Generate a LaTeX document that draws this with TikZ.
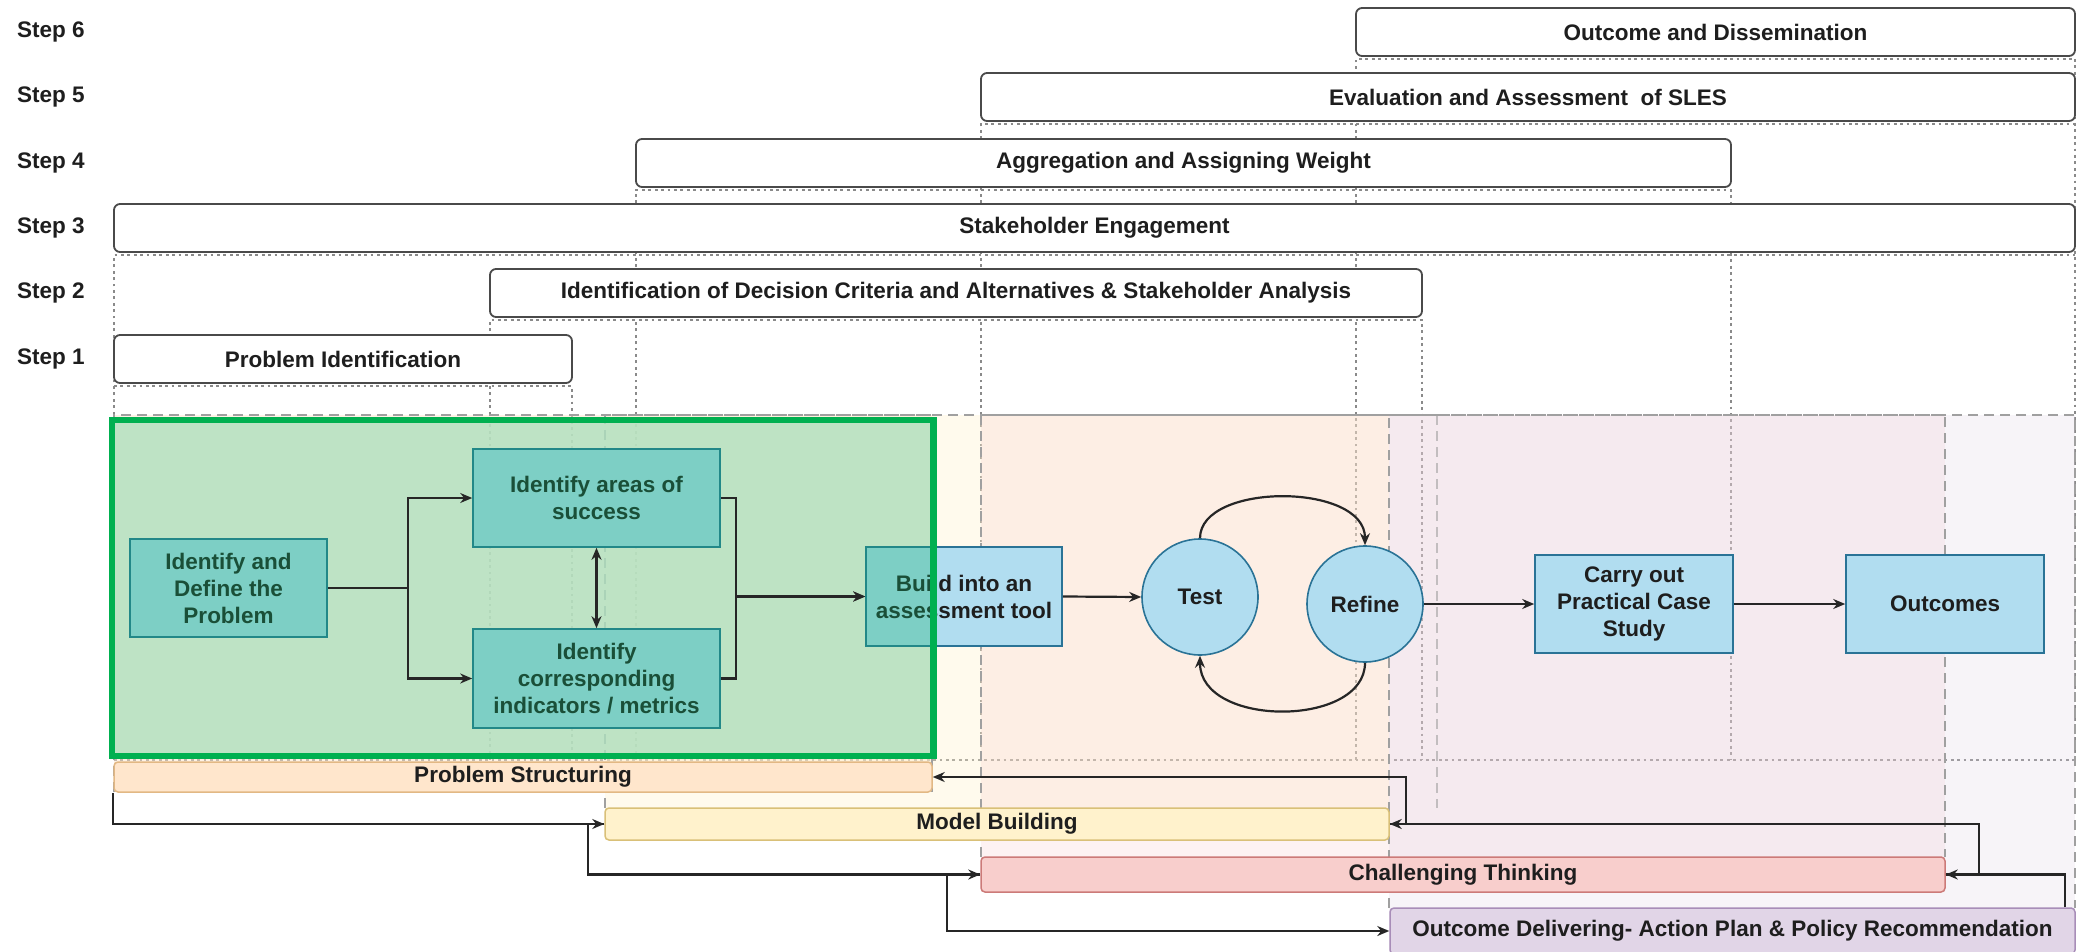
\documentclass[tikz,border=0pt]{standalone}
\usepackage{fontspec}
\setmainfont{Liberation Sans}
\usetikzlibrary{arrows.meta}
\definecolor{txtc}{HTML}{1E1E1E}
\definecolor{barb}{HTML}{4A4A4A}
\definecolor{dotg}{HTML}{8A8A8A}
\definecolor{dshg}{HTML}{A0A0A0}
\definecolor{psf}{HTML}{FFE6CC}
\definecolor{mbf}{HTML}{FFF2CC}
\definecolor{ctf}{HTML}{F8CECC}
\definecolor{odf}{HTML}{E1D5E7}
\definecolor{psb}{HTML}{E2B884}
\definecolor{mbb}{HTML}{D9C078}
\definecolor{ctb}{HTML}{CC7A78}
\definecolor{odb}{HTML}{A88DB8}
\definecolor{bluef}{HTML}{B1DDF0}
\definecolor{blueb}{HTML}{2A7396}
\definecolor{greenbg}{HTML}{AEE0BE}
\definecolor{greenc}{HTML}{00B050}
\definecolor{tintc}{RGB}{20,180,110}
\definecolor{linec}{HTML}{262626}
\newcommand{\fsz}{\fontsize{22.5}{27}\selectfont\bfseries}
\begin{document}
\begin{tikzpicture}[x=1pt,y=-1pt,
  lbl/.style={font=\fsz, text=txtc, inner sep=0pt},
  stepbar/.style={draw=barb, line width=1.8pt, rounded corners=6pt, fill=white, font=\fsz, text=txtc, inner sep=0pt, minimum height=48pt},
  lowbar/.style={line width=1.5pt, rounded corners=4pt, font=\fsz, text=txtc, inner sep=0pt},
  dotc/.style={draw=dotg, line width=2.8pt, dash pattern=on 2.8pt off 3.6pt},
  dsh/.style={draw=dshg, line width=2.4pt, dash pattern=on 10pt off 6pt},
  bbox/.style={draw=blueb, fill=bluef, line width=1.6pt, align=center, font=\fsz, text=txtc, inner sep=0pt},
  circ/.style={circle, draw=blueb, fill=bluef, line width=1.6pt, minimum size=116pt, font=\fsz, text=txtc, inner sep=0pt},
  conn/.style={draw=linec, line width=2.2pt, -{Stealth[length=12pt,width=10pt]}},
  dconn/.style={draw=linec, line width=2.2pt, {Stealth[length=12pt,width=10pt]}-{Stealth[length=12pt,width=10pt]}}
]
\useasboundingbox (0,0) rectangle (2085,952);
\fill[white] (0,0) rectangle (2085,952);

% dotted step containers (shared edges drawn once)
\draw[dotc] (1356,760) -- (1356,59) -- (2075,59);
\draw[dotc] (981,760) -- (981,124) -- (2075,124);
\draw[dotc] (636,760) -- (636,190) -- (1731,190) -- (1731,760);
\draw[dotc] (114,760) -- (114,255) -- (2075,255);
\draw[dotc] (2075,59) -- (2075,760);
\draw[dotc] (490,760) -- (490,320) -- (1422,320) -- (1422,760);
\draw[dotc] (114,386) -- (572,386) -- (572,760);
\draw[dotc] (114,760) -- (2075,760);

% coloured phase regions
\fill[psf, opacity=.5] (114,415) rectangle (932,792);
\fill[mbf, opacity=.35] (605,415) rectangle (1389,840);
\fill[ctf, opacity=.25] (981,415) rectangle (1945,892);
\fill[odf, opacity=.25] (1389,415) rectangle (2075,952);
\draw[dsh] (114,792) -- (114,415) -- (932,415) -- (932,792);
\draw[dsh] (605,808) -- (605,415) -- (1437,415);
\draw[dsh, draw opacity=.6] (1437,415) -- (1437,808);
\draw[dsh] (981,857) -- (981,415) -- (1945,415) -- (1945,857);
\draw[dsh] (1389,908) -- (1389,415) -- (2075,415) -- (2075,908);

% step labels
\node[lbl, anchor=west] (s6) at (17,32) {Step 6};
\node[lbl, anchor=west] (s5) at (17,97) {Step 5};
\node[lbl, anchor=west] (s4) at (17,163) {Step 4};
\node[lbl, anchor=west] (s3) at (17,228) {Step 3};
\node[lbl, anchor=west] (s2) at (17,293) {Step 2};
\node[lbl, anchor=west] (s1) at (17,359) {Step 1};

% step bars
\node[stepbar, minimum width=719pt] (b6) at (1715.5,32) {Outcome and Dissemination};
\node[stepbar, minimum width=1094pt] (b5) at (1528,97) {Evaluation and Assessment \ of SLES};
\node[stepbar, minimum width=1095pt] (b4) at (1183.5,163) {Aggregation and Assigning Weight};
\node[stepbar, minimum width=1961pt] (b3) at (1094.5,228) {Stakeholder Engagement};
\node[stepbar, minimum width=932pt] (b2) at (956,293) {Identification of Decision Criteria and Alternatives \& Stakeholder Analysis};
\node[stepbar, minimum width=458pt] (b1) at (343,359) {Problem Identification};

% phase bars
\node[lowbar, draw=psb, fill=psf, minimum width=818pt, minimum height=30pt] (ps) at (523,777) {Problem Structuring};
\node[lowbar, draw=mbb, fill=mbf, minimum width=784pt, minimum height=32pt] (mb) at (997,824) {Model Building};
\node[lowbar, draw=ctb, fill=ctf, minimum width=964pt, minimum height=35pt] (ct) at (1463,874.5) {Challenging Thinking};
\node[lowbar, draw=odb, fill=odf, minimum width=685pt, minimum height=46pt] (od) at (1732.5,931) {Outcome Delivering- Action Plan \& Policy Recommendation};

% green highlight background
\fill[greenbg, opacity=.8] (112,420) rectangle (933.5,756);

% process nodes
\node[bbox, minimum width=197pt, minimum height=98pt] (def) at (228.5,588) {Identify and\\Define the\\Problem};
\node[bbox, minimum width=247pt, minimum height=98pt] (areas) at (596.5,498) {Identify areas of\\success};
\node[bbox, minimum width=247pt, minimum height=99pt] (ind) at (596.5,678.5) {Identify\\corresponding\\indicators / metrics};
\node[bbox, minimum width=196pt, minimum height=99pt] (build) at (964,596.5) {Build into an\\assessment tool};
\node[circ] (test) at (1200,597) {Test};
\node[circ] (refine) at (1365,604) {Refine};
\node[bbox, minimum width=198pt, minimum height=98pt] (carry) at (1634,604) {Carry out\\Practical Case\\Study};
\node[bbox, minimum width=198pt, minimum height=98pt] (outc) at (1945,604) {Outcomes};

% process connectors
\draw[conn] (def.east) -- ++(80,0) |- (areas.west);
\draw[conn] (def.east) -- ++(80,0) |- (ind.west);
\draw[conn] (areas.east) -- ++(15,0) |- (build.west);
\draw[conn] (ind.east) -- ++(15,0) |- (build.west);
\draw[dconn] (areas.south) -- (ind.north);
\draw[conn] (build.east) -- (test.west);
\draw[conn] (test.north) .. controls +(0,-56) and +(0,-63) .. (refine.north);
\draw[conn] (refine.south) .. controls +(0,65) and +(0,72) .. (test.south);
\draw[conn] (refine.east) -- (carry.west);
\draw[conn] (carry.east) -- (outc.west);

% phase connectors
\draw[conn] (ps.south west) |- (mb.west);
\draw[conn] (mb.west) -- ++(-16,0) |- (ct.west);
\draw[conn] (ct.west) -- ++(-33,0) |- (od.west);
\draw[conn] ([xshift=-11pt]od.north east) |- (ct.east);
\draw[conn] (ct.east) -- ++(33,0) |- (mb.east);
\draw[conn] (mb.east) -- ++(16,0) |- (ps.east);

% green tint over boxes inside the highlight
\begin{scope}
  \clip (112,420) rectangle (933.5,756);
  \fill[tintc, opacity=.33] (def.south west) rectangle (def.north east);
  \fill[tintc, opacity=.33] (areas.south west) rectangle (areas.north east);
  \fill[tintc, opacity=.33] (ind.south west) rectangle (ind.north east);
  \fill[tintc, opacity=.33] (build.south west) rectangle (build.north east);
\end{scope}
\draw[greenc, line width=6.5pt] (112,420) rectangle (933.5,756);
\end{tikzpicture}
\end{document}
